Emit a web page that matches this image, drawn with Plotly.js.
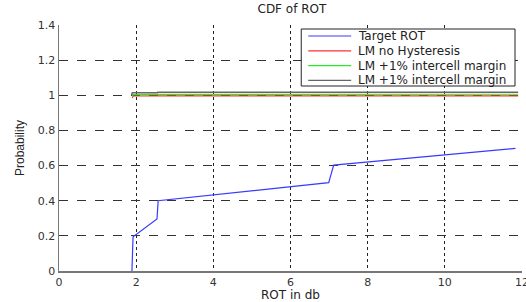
<!DOCTYPE html>
<html>
<head>
<meta charset="utf-8">
<script src="https://cdn.plot.ly/plotly-3.0.1.min.js"></script>
<style>html,body{margin:0;padding:0;background:#fff;}#chart{width:526px;height:302px;}</style>
</head>
<body>
<div id="chart"></div>
<script>
// Series data
var targetX = [1.89, 1.90, 1.92, 2.54, 2.57, 6.99, 7.12, 11.83];
var targetY = [0.0, 0.10, 0.195, 0.296, 0.40, 0.503, 0.603, 0.698];

var noHystX = [1.90, 1.92, 2.55, 11.9];
var noHystY = [0.985, 0.996, 0.997, 0.997];

var margin1X = [1.90, 1.92, 2.55, 11.9];
var margin1Y = [0.995, 1.004, 1.005, 1.006];

var margin2X = [1.88, 1.90, 2.55, 2.56, 11.9];
var margin2Y = [1.0, 1.014, 1.014, 1.017, 1.017];

var seriesNames = ["Target ROT", "LM no Hysteresis", "LM +1% intercell margin", "LM +1% intercell margin"];
var seriesColors = ["#3a3aff", "#ff3030", "#22ee22", "#666666"];

var font = "DejaVu Sans, Verdana, sans-serif";

var xs = [targetX, noHystX, margin1X, margin2X];
var ys = [targetY, noHystY, margin1Y, margin2Y];
var traces = xs.map(function (x, i) {
  return {x: x, y: ys[i], name: seriesNames[i], mode: "lines",
          line: {color: seriesColors[i], width: i === 3 ? 1.5 : 1.2}, showlegend: false};
});

// Plot-area geometry in pixels (for the hand-built, MATLAB-style legend)
var W = 526, H = 302, mL = 58.5, mR = 4, mT = 25, mB = 31;
var pw = W - mL - mR, ph = H - mT - mB;
function px(xp) { return (xp - mL) / pw; }
function py(yp) { return (H - mB - yp) / ph; }

var shapes = [{type: "rect", xref: "paper", yref: "paper",
  x0: px(301), x1: px(515), y0: py(86), y1: py(29),
  line: {color: "#222", width: 1}, fillcolor: "#fff", layer: "above"}];
var annotations = [];
seriesNames.forEach(function (name, i) {
  var rowY = py(36 + 14.8 * i);
  shapes.push({type: "line", xref: "paper", yref: "paper", x0: px(308), x1: px(351), y0: rowY, y1: rowY,
    line: {color: seriesColors[i], width: 1.2}, layer: "above"});
  annotations.push({xref: "paper", yref: "paper", x: px(356), y: rowY, xanchor: "left", yanchor: "middle",
    text: name, showarrow: false, font: {family: font, size: 12, color: "#222"}});
});

var layout = {
  width: W, height: H,
  margin: {l: mL, r: mR, t: mT, b: mB},
  paper_bgcolor: "#fff", plot_bgcolor: "#fff",
  font: {family: font, size: 11, color: "#222"},
  title: {text: "CDF of ROT", font: {family: font, size: 12, color: "#222"}, x: 0.555, xanchor: "center", y: 0.985, yanchor: "top"},
  showlegend: false,
  shapes: shapes,
  annotations: annotations,
  xaxis: {
    range: [0, 12.0001], dtick: 2, tick0: 0, zeroline: false,
    showgrid: true, gridcolor: "#222", griddash: "dot", gridwidth: 1,
    showline: true, linecolor: "#777", linewidth: 1.5, mirror: false,
    ticks: "", ticklabeloverflow: "allow", tickfont: {family: font, size: 11, color: "#333"},
    title: {text: "ROT in db", font: {family: font, size: 12, color: "#222"}, standoff: 2}
  },
  yaxis: {
    range: [0, 1.4], dtick: 0.2, tick0: 0, zeroline: false,
    showgrid: true, gridcolor: "#333", griddash: "dash", gridwidth: 1,
    showline: true, linecolor: "#777", linewidth: 1.5, mirror: false,
    ticks: "", tickfont: {family: font, size: 11, color: "#333"},
    title: {text: "Probability", font: {family: "Liberation Sans Narrow, Liberation Sans, sans-serif", size: 12, color: "#222"}, standoff: 10}
  }
};

Plotly.newPlot("chart", traces, layout, {displayModeBar: false, staticPlot: true});
</script>
</body>
</html>
